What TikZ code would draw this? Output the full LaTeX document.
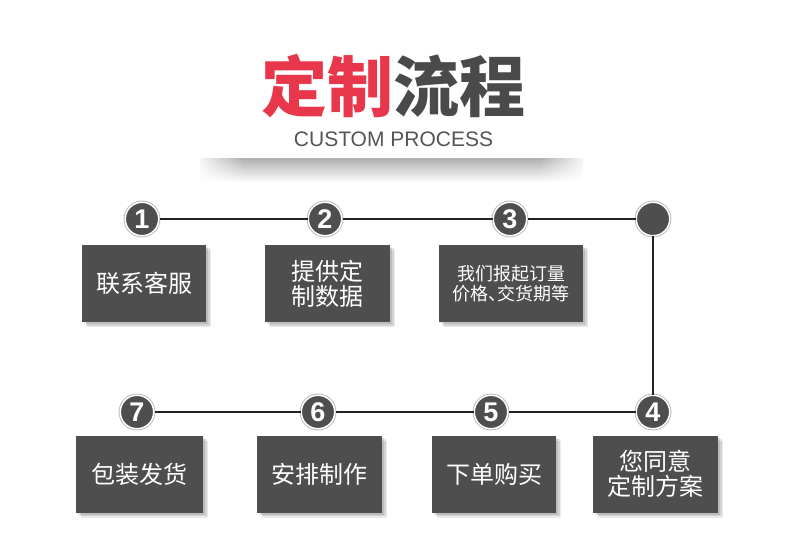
\documentclass[tikz,border=0pt]{standalone}
\usepackage{fontspec}
\setmainfont{Liberation Sans}
\newfontfamily\cjk{Noto Sans CJK SC}
\usetikzlibrary{shadows,fadings}
\definecolor{titlered}{HTML}{E8364B}
\definecolor{titlegray}{HTML}{4A4A4A}
\definecolor{boxgray}{HTML}{4E4E4E}
\definecolor{linegray}{HTML}{222222}
\definecolor{subgray}{HTML}{555555}
\tikzfading[name=fadedown, top color=transparent!30, bottom color=transparent!100]
\tikzfading[name=fadeleft, left color=transparent!0, right color=transparent!100]
\tikzfading[name=faderight, left color=transparent!100, right color=transparent!0]
\begin{document}
\begin{tikzpicture}[x=1pt,y=-1pt,
  stepbox/.style={rectangle, fill=boxgray, text=white, minimum height=77pt,
    inner sep=0pt, align=center, font=\cjk\fontsize{24}{25}\selectfont,
    general shadow={fill=black, opacity=.10, shadow xshift=2pt, shadow yshift=-2pt},
    general shadow={fill=black, opacity=.10, shadow xshift=3.5pt, shadow yshift=-3.5pt},
    general shadow={fill=black, opacity=.08, shadow xshift=5pt, shadow yshift=-5pt}},
  numdot/.style={circle, fill=boxgray, draw=white, line width=1.5pt, minimum size=33.5pt,
    inner sep=0pt, text=white, font=\bfseries\fontsize{27}{27}\selectfont,
    preaction={draw=gray!55, line width=3.3pt}},
  link/.style={draw=linegray, line width=1.1pt}
]
\useasboundingbox (0,0) rectangle (790,548);
\fill[white] (0,0) rectangle (790,548);

% title
\node[inner sep=0pt] (title) at (393.5,86)
  {\cjk\bfseries\fontsize{66}{66}\selectfont\textcolor{titlered}{定制}\textcolor{titlegray}{流程}};
\node[inner sep=0pt, text=subgray] (subtitle) at (393.5,139.5)
  {\fontsize{21}{21}\selectfont CUSTOM PROCESS};

% shadow band below title
\fill[black!45, path fading=fadedown] (200,158) rectangle (583,182);
\fill[white, path fading=fadeleft] (194,156) rectangle (244,184);
\fill[white, path fading=faderight] (539,156) rectangle (589,184);

% numbered dots
\node[numdot] (c1) at (142,219) {1};
\node[numdot] (c2) at (325,219) {2};
\node[numdot] (c3) at (510,219) {3};
\node[numdot] (c0) at (653,219) {};
\node[numdot] (c4) at (653,412) {4};
\node[numdot] (c5) at (491,412) {5};
\node[numdot] (c6) at (318,412) {6};
\node[numdot] (c7) at (137,412) {7};

% connectors
\draw[link] (c1) -- (c2);
\draw[link] (c2) -- (c3);
\draw[link] (c3) -- (c0);
\draw[link] (c0) -- (c4);
\draw[link] (c4) -- (c5);
\draw[link] (c5) -- (c6);
\draw[link] (c6) -- (c7);

% boxes
\node[stepbox, minimum width=124pt] (b1) at (144,283.5) {联系客服};
\node[stepbox, minimum width=125pt] (b2) at (327.5,283.5) {提供定\\制数据};
\node[stepbox, minimum width=144pt, font=\cjk\fontsize{18}{20}\selectfont] (b3) at (511,283.5) {我们报起订量\\价格、\kern-.45em交货期等};
\node[stepbox, minimum width=125pt] (b4) at (655.5,474) {您同意\\定制方案};
\node[stepbox, minimum width=124pt] (b5) at (494,474) {下单购买};
\node[stepbox, minimum width=125pt] (b6) at (319.5,474) {安排制作};
\node[stepbox, minimum width=127pt] (b7) at (139.5,474) {包装发货};
\end{tikzpicture}
\end{document}
